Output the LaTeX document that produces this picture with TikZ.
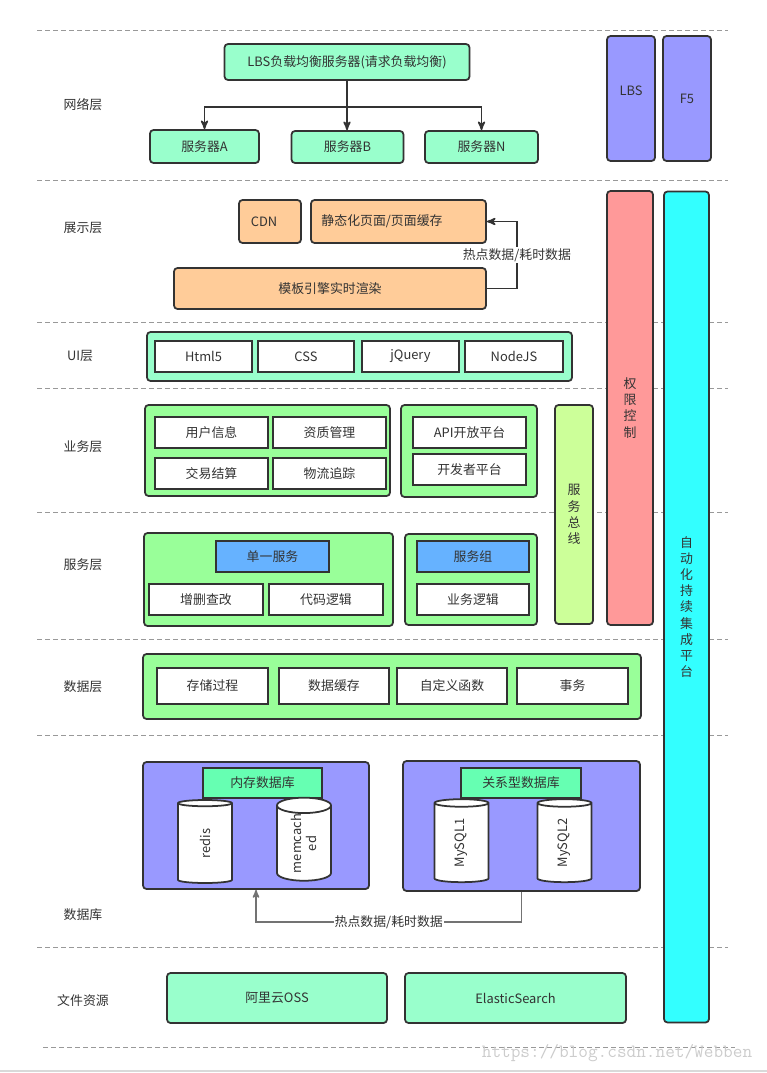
\documentclass[tikz,border=0pt]{standalone}
\usepackage{fontspec}
\setmainfont{Noto Sans CJK SC}
\usepackage{tikz}
\usetikzlibrary{arrows,shapes.geometric,shadows}
\newlength{\px}
\setlength{\px}{0.03cm}
\definecolor{txtgray}{HTML}{333333}
\definecolor{linegray}{HTML}{333333}
\definecolor{mint}{HTML}{99FFCC}
\definecolor{lilac}{HTML}{9999FF}
\definecolor{peach}{HTML}{FFCC99}
\definecolor{leaf}{HTML}{99FF99}
\definecolor{lime}{HTML}{CCFF99}
\definecolor{sky}{HTML}{66B2FF}
\definecolor{jade}{HTML}{66FFB2}
\definecolor{rose}{HTML}{FF9999}
\definecolor{aqua}{HTML}{33FFFF}

\begin{document}
\begin{tikzpicture}[
    x=\px, y=-\px, % 像素坐标, y向下
    >=stealth', % 箭头
    every node/.style={font=\fontsize{11}{13}\selectfont, text=txtgray}
  ]
  \tikzstyle{sep}=[draw=gray!80, line width=0.8pt, dash pattern=on 5\px off 3\px]
  \tikzstyle{rbox}=[draw=linegray, line width=1.5pt, rounded corners=3pt, inner sep=0pt,
    drop shadow={shadow xshift=0.7pt, shadow yshift=-0.7pt, fill=black!25}]
  \tikzstyle{sbox}=[draw=linegray, line width=1.5pt, fill=white, inner sep=0pt,
    drop shadow={shadow xshift=0.7pt, shadow yshift=-0.7pt, fill=black!25}]
  \tikzstyle{db}=[cylinder, draw=linegray, line width=1.5pt, fill=white, rotate=90,
    aspect=0.6, minimum width=54\px, minimum height=83\px, inner sep=0pt, align=center]
  \tikzstyle{vtext}=[align=center, font=\fontsize{11}{13.8}\selectfont]
  \tikzstyle{arrow}=[->, draw=linegray, line width=1.5pt]
  \useasboundingbox (0,0) rectangle (767,1073);
  %% 分层虚线
  \foreach \y in {30,180,322,388,512,639,735,947}
    \draw[sep] (37,\y) -- (728,\y);
  \draw[sep] (43,1047) -- (735,1047);
  \draw[gray!30, line width=1pt] (0,1071) -- (767,1071);
  %% 层名
  \node (lnet) at (83,105) {网络层};
  \node (lshow) at (83,228) {展示层};
  \node (lui) at (80,356) {UI层};
  \node (lbiz) at (83,447) {业务层};
  \node (lsvc) at (83,565) {服务层};
  \node (ldata) at (83,687) {数据层};
  \node (ldb) at (83,915) {数据库};
  \node (lfile) at (83,1001) {文件资源};
  %% 网络层
  \node[rbox, fill=mint, minimum width=245\px, minimum height=36\px] (lbs) at (347,62) {LBS负载均衡服务器(请求负载均衡)};
  \node[rbox, fill=mint, minimum width=109\px, minimum height=33\px] (srva) at (204.5,146.5) {服务器A};
  \node[rbox, fill=mint, minimum width=112\px, minimum height=32\px] (srvb) at (347.5,147) {服务器B};
  \node[rbox, fill=mint, minimum width=113\px, minimum height=32\px] (srvn) at (481.5,147) {服务器N};
  \draw[arrow] (lbs.south) -- ++(0,26) -| (srva.north);
  \draw[arrow] (lbs.south) -- ++(0,26) -| (srvn.north);
  \draw[arrow] (lbs.south) -- (lbs.south |- srvb.north);
  \node[rbox, fill=lilac, minimum width=48\px, minimum height=125\px] (collbs) at (631,98.5) {\raisebox{16\px}{LBS}};
  \node[rbox, fill=lilac, minimum width=48\px, minimum height=125\px] (colf5) at (687,98.5) {F5};
  %% 展示层
  \node[rbox, fill=peach, minimum width=62\px, minimum height=43\px] (cdn) at (270,221.5) {\hspace*{-12\px}CDN};
  \node[rbox, fill=peach, minimum width=175\px, minimum height=43\px] (static) at (398.5,221.5) {\hspace*{-33\px}静态化页面/页面缓存};
  \node[rbox, fill=peach, minimum width=312\px, minimum height=41\px] (tpl) at (330,288.5) {模板引擎实时渲染};
  \draw[arrow] (tpl.east) -- ++(30,0) |- (static.east) node[pos=0.25, fill=white, inner sep=1pt] {热点数据/耗时数据};
  %% 右侧竖条
  \node[rbox, fill=rose, minimum width=46\px, minimum height=434\px, vtext] (auth) at (630,408) {权\\限\\控\\制};
  \node[rbox, fill=aqua, minimum width=45\px, minimum height=831\px, vtext] (ci) at (686.5,607) {自\\动\\化\\持\\续\\集\\成\\平\\台};
  %% UI层
  \node[rbox, fill=mint, minimum width=425\px, minimum height=49\px] (ui) at (359.5,356.5) {};
  \node[sbox, minimum width=97\px, minimum height=31\px] (html) at (203.5,356.5) {Html5};
  \node[sbox, minimum width=96\px, minimum height=31\px] (css) at (306,356.5) {CSS};
  \node[sbox, minimum width=97\px, minimum height=31\px] (jq) at (410.5,356.5) {jQuery};
  \node[sbox, minimum width=98\px, minimum height=31\px] (nodejs) at (514,356.5) {NodeJS};
  %% 业务层
  \node[rbox, fill=leaf, minimum width=245\px, minimum height=91\px] (biz1) at (267.5,450.5) {};
  \node[sbox, minimum width=113\px, minimum height=31\px] (user) at (211.5,432.5) {用户信息};
  \node[sbox, minimum width=113\px, minimum height=31\px] (qual) at (329.5,432.5) {资质管理};
  \node[sbox, minimum width=113\px, minimum height=31\px] (trade) at (211.5,473.5) {交易结算};
  \node[sbox, minimum width=113\px, minimum height=31\px] (logi) at (329.5,473.5) {物流追踪};
  \node[rbox, fill=leaf, minimum width=136\px, minimum height=92\px] (biz2) at (469,451) {};
  \node[sbox, minimum width=113\px, minimum height=31\px] (api) at (469.5,432.5) {API开放平台};
  \node[sbox, minimum width=113\px, minimum height=31\px] (dev) at (469.5,469.5) {开发者平台};
  \node[rbox, fill=lime, minimum width=38\px, minimum height=219\px, vtext] (bus) at (574,514.5) {服\\务\\总\\线};
  %% 服务层
  \node[rbox, fill=leaf, minimum width=249\px, minimum height=93\px] (svc1) at (268.5,579.5) {};
  \node[sbox, fill=sky, minimum width=113\px, minimum height=31\px] (single) at (272.5,556.5) {单一服务};
  \node[sbox, minimum width=114\px, minimum height=31\px] (crud) at (206,599.5) {增删查改};
  \node[sbox, minimum width=114\px, minimum height=31\px] (code) at (326,599.5) {代码逻辑};
  \node[rbox, fill=leaf, minimum width=132\px, minimum height=91\px] (svc2) at (471,579.5) {};
  \node[sbox, fill=sky, minimum width=112\px, minimum height=31\px] (group) at (473,556.5) {服务组};
  \node[sbox, minimum width=112\px, minimum height=31\px] (logic) at (473,599.5) {业务逻辑};
  %% 数据层
  \node[rbox, fill=leaf, minimum width=498\px, minimum height=65\px] (data) at (392,686.5) {};
  \node[sbox, minimum width=111\px, minimum height=36\px] (proc) at (212.5,686) {存储过程};
  \node[sbox, minimum width=110\px, minimum height=36\px] (cache) at (334,686) {数据缓存};
  \node[sbox, minimum width=110\px, minimum height=36\px] (func) at (452,686) {自定义函数};
  \node[sbox, minimum width=111\px, minimum height=36\px] (trans) at (572.5,686) {事务};
  %% 数据库
  \node[rbox, fill=lilac, minimum width=226\px, minimum height=127\px] (mem) at (256,825.5) {};
  \node[sbox, fill=jade, minimum width=119\px, minimum height=30\px] (memtitle) at (262.5,783) {内存数据库};
  \node[db] (redis) at (205,843.5) {redis};
  \node[db] (memc) at (304,843.5) {memcach\\ed};
  \node[rbox, fill=lilac, minimum width=237\px, minimum height=130\px] (rel) at (521.5,826) {};
  \node[sbox, fill=jade, minimum width=120\px, minimum height=30\px] (reltitle) at (521,783) {关系型数据库};
  \node[db] (mysqla) at (461.5,843) {MySQL1};
  \node[db] (mysqlb) at (564.5,843) {MySQL2};
  \draw[arrow, draw=gray!90!black, line width=1.3pt] (rel.south) -- ++(0,30) -| (mem.south) node[pos=0.25, fill=white, inner sep=1pt] {热点数据/耗时数据};
  %% 文件资源
  \node[rbox, fill=mint, minimum width=220\px, minimum height=50\px] (oss) at (277,998) {阿里云OSS};
  \node[rbox, fill=mint, minimum width=221\px, minimum height=50\px] (es) at (515.5,998) {ElasticSearch};
  \node[font=\ttfamily\fontsize{16}{16}\selectfont, text=gray!40] (mark) at (617,1053) {https://blog.csdn.net/Webben};
\end{tikzpicture}
\end{document}
